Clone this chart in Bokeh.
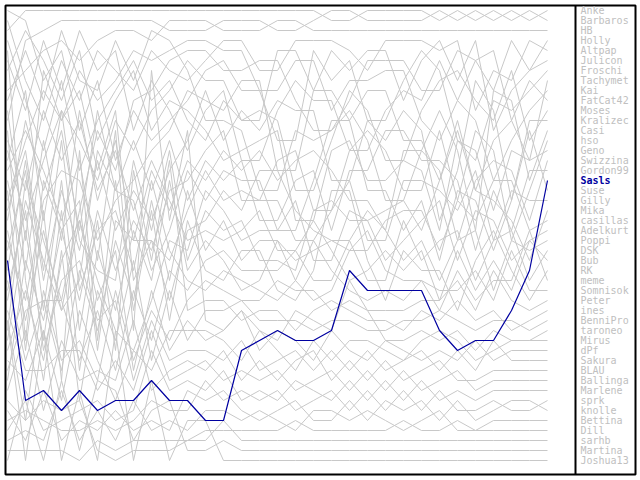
from bokeh.plotting import figure
from bokeh.models import Range1d, Span, ColumnDataSource
from bokeh.core.properties import value
from bokeh.embed import file_html
from bokeh.resources import INLINE

rounds = list(range(1, 32))

players = ["Anke", "Barbaros", "HB", "Holly", "Altpap", "Julicon", "Froschi", "Tachymet",
           "Kai", "FatCat42", "Moses", "Kralizec", "Casi", "hso", "Geno", "Swizzina",
           "Gordon99", "Sasls", "Suse", "Gilly", "Mika", "casillas", "Adelkurt", "Poppi",
           "DSK", "Bub", "RK", "meme", "Somnisok", "Peter", "ines", "BenniPro", "taroneo",
           "Mirus", "dPf", "Sakura", "BLAU", "Ballinga", "Marlene", "sprk", "knolle",
           "Bettina", "Dill", "sarhb", "Martina", "Joshua13"]

highlight = "Sasls"

ranks = {
    "Anke":     [12,4,3,2,2,2,2,2,2,3,3,3, 2,2,2,3,3,2,1,1,2,2,2,2, 1,2,1,2,1,2,1],
    "Barbaros": [3,1,1,1,1,1,1,1,1,1,1,1, 1,1,1,1,1,1,2,2,1,1,1,1, 2,1,2,1,2,1,2],
    "HB":       [9,7,5,4,6,4,3,3,4,2,2,2, 3,3,3,2,2,3,3,3,3,3,3,3, 3,3,3,3,3,3,3],
    "Holly":    [20,14,9,12,7,10,8,5,6,5,4,4, 5,5,9,9,6,6,11,8,8,7,7,12, 14,10,6,9,4,7,4],
    "Altpap":   [2,8,12,6,10,5,7,9,5,7,8,6, 4,4,7,7,4,4,4,5,7,4,4,4, 5,4,11,7,8,4,5],
    "Julicon":  [15,22,16,11,14,18,12,15,11,9,6,8, 8,12,12,5,5,9,5,7,5,5,10,6, 4,8,4,13,9,7,6],
    "Froschi":  [1,2,8,5,13,8,16,11,14,12,10,7, 6,9,9,14,14,5,8,6,12,12,8,5, 7,14,16,10,11,9,7],
    "Tachymet": [33,18,24,30,21,13,17,10,9,6,5,5, 7,7,6,6,10,13,13,10,6,6,6,9, 9,5,6,5,12,16,8],
    "Kai":      [6,11,4,9,3,7,5,13,8,11,15,11, 9,16,16,11,8,10,10,15,15,11,9,10, 6,10,12,18,14,11,9],
    "FatCat42": [24,30,20,17,18,24,20,18,15,13,9,10, 11,8,8,17,17,9,9,12,9,9,14,14, 18,13,19,14,12,8,10],
    "Moses":    [4,10,15,8,17,12,9,6,10,8,12,14, 10,12,11,12,19,19,14,9,11,16,16,11, 8,7,10,12,7,14,11],
    "Kralizec": [27,16,28,19,25,16,23,19,22,17,14,9, 14,11,13,10,11,11,18,18,12,14,11,13, 22,17,8,11,20,12,12],
    "Casi":     [10,5,10,3,8,9,4,8,3,4,7,12, 12,13,19,19,13,14,13,11,14,20,20,15, 11,15,23,9,10,18,13],
    "hso":      [38,26,32,23,30,21,27,22,25,19,18,15, 13,20,20,16,15,21,21,15,13,15,19,19, 13,20,13,15,24,19,14],
    "Geno":     [7,3,6,10,5,14,10,7,13,10,11,13, 16,15,14,13,22,22,15,14,18,18,16,17, 23,14,15,21,15,16,15],
    "Swizzina": [18,27,14,24,11,20,14,24,17,21,16,18, 15,17,15,18,16,15,17,20,20,23,15,15, 17,24,18,16,17,22,16],
    "Gordon99": [22,12,19,13,23,11,19,14,19,14,20,16, 18,16,22,22,18,17,23,17,17,13,13,16, 16,18,25,19,23,17,17],
    "Sasls":    [26,40,39,41,39,41,40,40,38,40,40,42, 42,35,34,33,34,34,33,27,29,29,29,29, 33,35,34,34,31,27,18],
    "Suse":     [30,20,26,31,28,15,19,20,27,23,17,20, 17,18,18,23,23,18,12,12,19,19,23,20, 26,19,20,25,20,13,19],
    "Gilly":    [11,24,7,12,9,17,11,28,24,26,21,17, 20,19,20,20,24,24,21,18,24,24,18,18, 19,21,17,24,19,20,20],
    "Mika":     [35,29,36,26,22,28,33,35,30,24,25,19, 21,24,23,23,20,26,26,21,22,21,20,23, 18,12,19,20,22,26,21],
    "casillas": [13,34,18,23,20,35,22,24,24,30,23,22, 19,21,17,17,21,23,24,25,25,22,21,21, 25,20,22,18,18,23,22],
    "Adelkurt": [16,9,22,11,24,27,28,16,23,15,26,21, 23,22,26,26,27,21,20,22,22,26,24,22, 20,26,21,22,26,24,23],
    "Poppi":    [28,36,30,37,27,33,24,30,20,28,19,25, 22,26,24,24,26,25,24,24,21,23,26,24, 28,24,23,29,24,25,24],
    "DSK":      [14,19,11,16,12,19,15,21,16,20,24,23, 24,23,21,25,25,28,28,24,28,28,22,26, 24,23,28,24,23,28,25],
    "Bub":      [37,31,30,30,36,31,37,29,34,27,29,26, 25,27,27,27,25,22,25,28,27,25,27,25, 30,25,29,26,29,24,26],
    "RK":       [19,35,21,38,15,34,18,31,21,32,22,27, 28,25,25,29,30,27,19,19,26,30,25,27, 27,31,26,23,27,30,27],
    "meme":     [34,23,34,21,37,25,31,23,28,18,27,24, 26,29,28,24,28,30,29,25,23,27,28,28, 31,27,30,28,28,23,28],
    "Somnisok": [21,15,27,14,29,23,21,27,18,25,28,29, 27,28,29,30,28,24,27,29,30,29,30,28, 29,29,27,30,25,29,29],
    "Peter":    [32,42,29,36,34,38,29,36,31,34,30,28, 29,30,30,28,29,29,31,30,31,31,31,30, 30,28,31,27,30,31,30],
    "ines":     [25,17,31,18,33,22,35,17,26,16,31,30, 30,32,31,31,33,31,30,31,32,32,33,31, 32,30,32,31,33,32,31],
    "BenniPro": [5,28,38,25,40,29,34,26,36,29,34,31, 31,30,32,32,32,33,32,32,33,33,32,32, 31,32,33,32,32,33,32],
    "taroneo":  [17,13,17,22,16,26,13,33,7,22,13,32, 33,31,33,34,31,32,33,28,31,34,34,33, 34,33,35,33,34,34,33],
    "Mirus":    [36,38,33,40,31,36,40,35,37,33,33,33, 34,36,33,35,37,34,36,34,34,35,36,34, 33,34,36,35,34,34,34],
    "dPf":      [23,32,23,31,22,30,25,37,29,35,32,34, 33,31,35,33,34,36,33,35,36,34,35,36, 35,36,34,36,35,35,35],
    "Sakura":   [29,21,35,28,26,32,30,38,32,36,35,35, 36,34,37,36,35,37,35,37,35,37,36,35, 37,35,37,34,36,36,36],
    "BLAU":     [39,33,41,34,38,37,38,32,39,37,36,37, 35,38,36,38,36,35,38,36,38,36,38,37, 36,38,38,37,37,37,37],
    "Ballinga": [31,37,37,35,35,39,36,39,33,38,37,36, 38,37,38,37,39,38,37,39,37,39,37,39, 38,37,39,38,38,38,38],
    "Marlene":  [46,39,43,42,41,40,42,41,35,39,38,39, 37,40,39,40,38,39,40,38,40,38,40,38, 40,39,40,39,39,39,39],
    "sprk":     [42,41,42,43,43,42,43,42,40,41,41,38, 40,39,40,39,41,40,39,41,39,41,39,41, 39,41,41,40,41,41,40],
    "knolle":   [41,44,39,44,42,43,41,43,42,43,39,40, 39,41,42,41,40,42,42,40,42,40,41,40, 42,40,42,41,40,40,41],
    "Bettina":  [44,43,44,39,44,41,44,40,43,42,43,41, 41,42,41,42,43,41,41,42,41,42,43,42, 41,43,43,42,42,42,42],
    "Dill":     [45,45,45,45,46,44,45,44,44,44,44,43, 43,43,43,43,42,43,43,43,43,43,42,43, 43,42,43,43,43,43,43],
    "sarhb":    [40,42,40,41,40,45,46,45,45,45,44,44, 42,44,44,44,44,44,44,44,44,44,44,44, 44,44,44,44,44,44,44],
    "Martina":  [43,40,46,38,45,38,39,44,41,40,45,45, 44,45,45,45,45,45,45,45,45,45,45,45, 45,45,45,45,45,45,45],
    "Joshua13": [32,46,33,46,39,46,33,46,38,46,42,42, 46,46,46,46,46,46,46,46,46,46,46,46, 46,46,46,46,46,46,46],
}

GRAY = "#c8c8c8"
BLUE = "#0000a0"

x0 = rounds[0] - 2 / 18
p = figure(width=638, height=478, output_backend="svg", toolbar_location=None,
           x_range=Range1d(x0, x0 + 630 / 18), y_range=Range1d(47.4, 0.5),
           x_axis_location=None, y_axis_location=None,
           min_border_left=5, min_border_top=5, min_border_right=3, min_border_bottom=4)
p.grid.visible = False
p.outline_line_color = "black"
p.outline_line_width = 2
p.background_fill_color = "white"
p.border_fill_color = "white"

gray_names = [n for n in players if n != highlight]
p.multi_line(xs=[rounds] * len(gray_names), ys=[ranks[n] for n in gray_names],
             line_color=GRAY, line_width=1)
p.line(rounds, ranks[highlight], line_color=BLUE, line_width=1.2)

divider_x = x0 + 570 / 18
p.add_layout(Span(location=divider_x, dimension="height", line_color="black", line_width=2))

legend_x = x0 + 575 / 18
src = ColumnDataSource(dict(
    x=[legend_x] * len(players),
    y=list(range(1, len(players) + 1)),
    t=players,
    c=[BLUE if n == highlight else "#c0c0c0" for n in players],
    s=["bold" if n == highlight else "normal" for n in players],
))
p.text(x="x", y="y", text="t", text_color="c", text_font_style="s", source=src,
       text_font=value("DejaVu Sans Mono"), text_font_size="10px",
       text_baseline="middle", text_align="left")

open("out.html", "w").write(file_html(p, INLINE))
